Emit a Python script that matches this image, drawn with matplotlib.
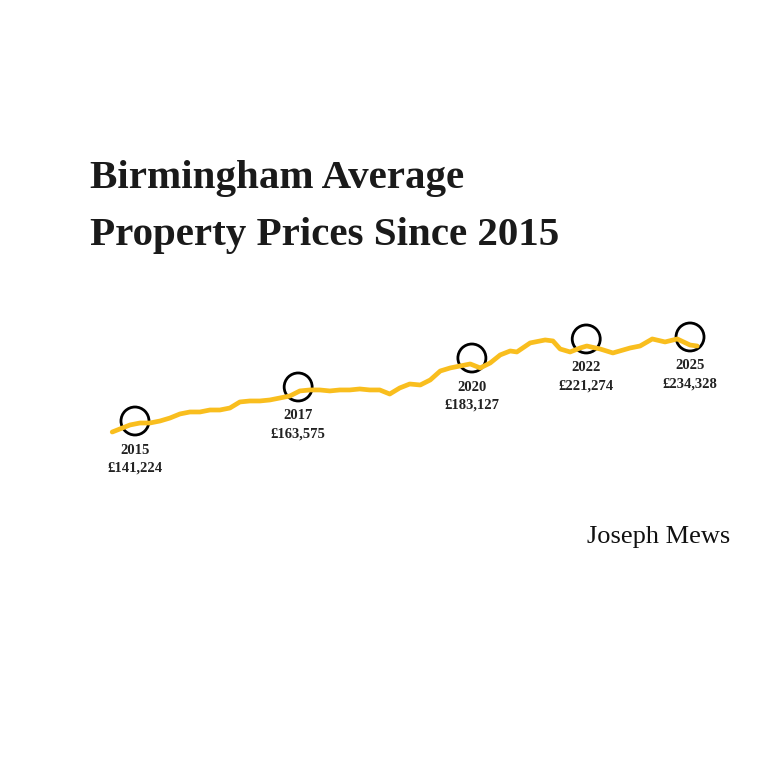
import matplotlib
matplotlib.use("Agg")
import matplotlib.pyplot as plt
from matplotlib.patches import Ellipse
from matplotlib import font_manager

years = [2014.59,2014.73,2014.91,2015.09,2015.27,2015.45,2015.63,2015.81,2015.99,2016.17,
         2016.35,2016.53,2016.71,2016.89,2017.07,2017.25,2017.43,2017.61,2017.79,2017.97,
         2018.15,2018.33,2018.51,2018.69,2018.87,2019.05,2019.23,2019.41,2019.59,2019.77,
         2019.95,2020.14,2020.32,2020.50,2020.68,2020.86,2021.04,2021.22,2021.40,2021.58,
         2021.76,2021.88,2022.12,2022.39,2022.53,2022.66,2022.84,2023.02,2023.14,2023.38,
         2023.61,2023.92,2024.10,2024.32,2024.55,2024.77,2025.00,2025.13]
prices = [129.0,132.4,136.8,139.0,139.0,141.2,144.5,149.0,151.2,151.2,
          153.4,153.4,155.6,162.3,163.4,163.4,164.5,166.7,168.9,174.5,
          175.6,175.6,174.5,175.6,175.6,176.7,175.6,175.6,171.1,177.8,
          182.2,181.1,186.7,196.6,200.0,202.2,204.4,200.0,205.5,214.4,
          218.8,217.7,227.7,231.0,229.9,221.0,217.7,222.1,224.3,221.0,
          216.6,222.1,224.3,232.1,228.8,232.1,225.4,224.3]
marker_x = [2015.00, 2017.94, 2021.07, 2023.13, 2025.00]
marker_y = [141.2, 178.9, 211.0, 232.1, 234.3]
marker_year = ["2015", "2017", "2020", "2022", "2025"]
marker_price = ["£141,224", "£163,575", "£183,127", "£221,274", "£234,328"]
title_lines = ["Birmingham Average", "Property Prices Since 2015"]
brand = "Joseph Mews"

names = {f.name for f in font_manager.fontManager.ttflist}
serif = "Liberation Serif" if "Liberation Serif" in names else "DejaVu Serif"

fig = plt.figure(figsize=(7.68, 7.68), dpi=100)
ax = fig.add_axes([0, 0, 1, 1])
ax.set_xlim(2012.568, 2026.405)
ax.set_ylim(-243.3, 607.7)
ax.axis("off")
ax.plot(years, prices, color="#F9BE1E", lw=3.4, solid_capstyle="round", solid_joinstyle="round")

rx = 14 / 55.5
ry = 14 * 1.1084
for x, y, yr, pr in zip(marker_x, marker_y, marker_year, marker_price):
    ax.add_patch(Ellipse((x, y), 2 * rx, 2 * ry, fill=False, ec="black", lw=2))
    ax.text(x, y - 29 * 1.1084, yr, ha="center", va="center", fontsize=10.5,
            fontfamily=serif, fontweight="bold", color="#222")
    ax.text(x, y - 47 * 1.1084, pr, ha="center", va="center", fontsize=10.5,
            fontfamily=serif, fontweight="bold", color="#222")

fig.text(90 / 768, 1 - 188 / 768, title_lines[0], fontsize=29.5, fontfamily=serif,
         fontweight="bold", color="#1a1a1a", va="baseline", ha="left")
fig.text(90 / 768, 1 - 245 / 768, title_lines[1], fontsize=29.5, fontfamily=serif,
         fontweight="bold", color="#1a1a1a", va="baseline", ha="left")
fig.text(730 / 768, 1 - 543 / 768, brand, fontsize=19, fontfamily=serif,
         color="#111", va="baseline", ha="right")
fig.savefig("out.png", dpi=100, facecolor="white")
